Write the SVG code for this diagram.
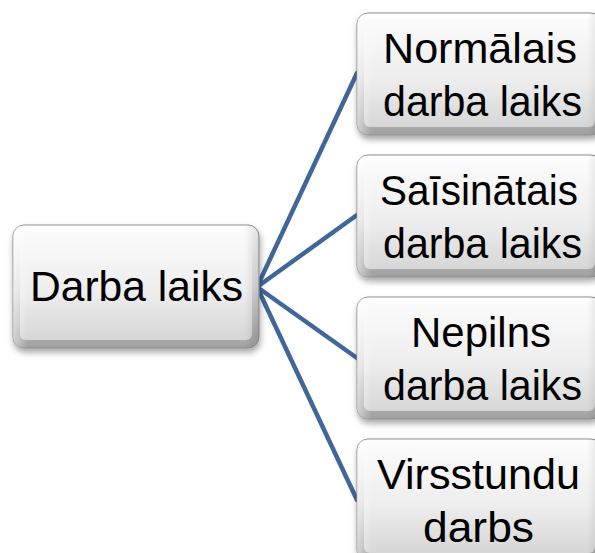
<svg xmlns="http://www.w3.org/2000/svg" width="595" height="553" viewBox="0 0 595 553">
  <defs>
    <linearGradient id="rim" x1="0" y1="0" x2="0" y2="1">
      <stop offset="0" stop-color="#ffffff"/>
      <stop offset="0.5" stop-color="#e0e0e0"/>
      <stop offset="1" stop-color="#a0a0a0"/>
    </linearGradient>
    <linearGradient id="face" x1="0" y1="0" x2="0" y2="1">
      <stop offset="0" stop-color="#fbfbfb"/>
      <stop offset="0.55" stop-color="#eeeeee"/>
      <stop offset="1" stop-color="#d6d6d6"/>
    </linearGradient>
    <linearGradient id="side" x1="0" y1="0" x2="1" y2="0">
      <stop offset="0" stop-color="#ffffff" stop-opacity="0.5"/>
      <stop offset="0.06" stop-color="#ffffff" stop-opacity="0"/>
      <stop offset="0.94" stop-color="#000000" stop-opacity="0"/>
      <stop offset="1" stop-color="#000000" stop-opacity="0.12"/>
    </linearGradient>
    <filter id="shadow" x="-10%" y="-10%" width="125%" height="130%">
      <feDropShadow dx="1" dy="4" stdDeviation="3" flood-color="#000000" flood-opacity="0.35"/>
    </filter>
  </defs>
  <style>
    .rim { fill: url(#rim); stroke: #8c8c8c; stroke-width: 1; filter: url(#shadow); }
    .face { fill: url(#face); }
    .side { fill: url(#side); }
    .lbl { font-family: "Liberation Sans", Arial, sans-serif; fill: #000000; text-anchor: middle; }
    .edge { stroke: #41679a; stroke-width: 4.5; fill: none; stroke-linecap: round; }
  </style>

  <!-- connectors from the root to each child -->
  <g id="connectors">
    <line class="edge" x1="257" y1="287" x2="357" y2="73"/>
    <line class="edge" x1="257" y1="287" x2="357" y2="215"/>
    <line class="edge" x1="257" y1="287" x2="357" y2="358"/>
    <line class="edge" x1="257" y1="287" x2="357" y2="500"/>
  </g>

  <!-- root node -->
  <g id="node-root">
    <rect class="rim" x="13" y="225" width="246" height="123" rx="11"/>
    <rect class="face" x="20" y="231" width="232" height="109" rx="6"/>
    <rect class="side" x="13" y="225" width="246" height="123" rx="11"/>
    <text class="lbl" x="136.5" y="301" font-size="43" textLength="213" lengthAdjust="spacingAndGlyphs">Darba laiks</text>
  </g>

  <!-- child nodes -->
  <g id="node-normalais">
    <rect class="rim" x="357" y="13" width="245" height="122" rx="11"/>
    <rect class="face" x="364" y="19" width="231" height="108" rx="6"/>
    <rect class="side" x="357" y="13" width="245" height="122" rx="11"/>
    <text class="lbl" x="480" y="63" font-size="42" textLength="194" lengthAdjust="spacingAndGlyphs">Normālais</text>
    <text class="lbl" x="482.5" y="116" font-size="42" textLength="199" lengthAdjust="spacingAndGlyphs">darba laiks</text>
  </g>

  <g id="node-saisinatais">
    <rect class="rim" x="357" y="155" width="245" height="122" rx="11"/>
    <rect class="face" x="364" y="161" width="231" height="108" rx="6"/>
    <rect class="side" x="357" y="155" width="245" height="122" rx="11"/>
    <text class="lbl" x="479" y="205" font-size="42" textLength="198" lengthAdjust="spacingAndGlyphs">Saīsinātais</text>
    <text class="lbl" x="482.5" y="258" font-size="42" textLength="199" lengthAdjust="spacingAndGlyphs">darba laiks</text>
  </g>

  <g id="node-nepilns">
    <rect class="rim" x="357" y="297" width="245" height="122" rx="11"/>
    <rect class="face" x="364" y="303" width="231" height="108" rx="6"/>
    <rect class="side" x="357" y="297" width="245" height="122" rx="11"/>
    <text class="lbl" x="481" y="347" font-size="42" textLength="140" lengthAdjust="spacingAndGlyphs">Nepilns</text>
    <text class="lbl" x="482.5" y="400" font-size="42" textLength="199" lengthAdjust="spacingAndGlyphs">darba laiks</text>
  </g>

  <g id="node-virsstundu">
    <rect class="rim" x="357" y="439" width="245" height="122" rx="11"/>
    <rect class="face" x="364" y="445" width="231" height="108" rx="6"/>
    <rect class="side" x="357" y="439" width="245" height="122" rx="11"/>
    <text class="lbl" x="478.5" y="489" font-size="42" textLength="203" lengthAdjust="spacingAndGlyphs">Virsstundu</text>
    <text class="lbl" x="478.5" y="542" font-size="42" textLength="111" lengthAdjust="spacingAndGlyphs">darbs</text>
  </g>
</svg>
